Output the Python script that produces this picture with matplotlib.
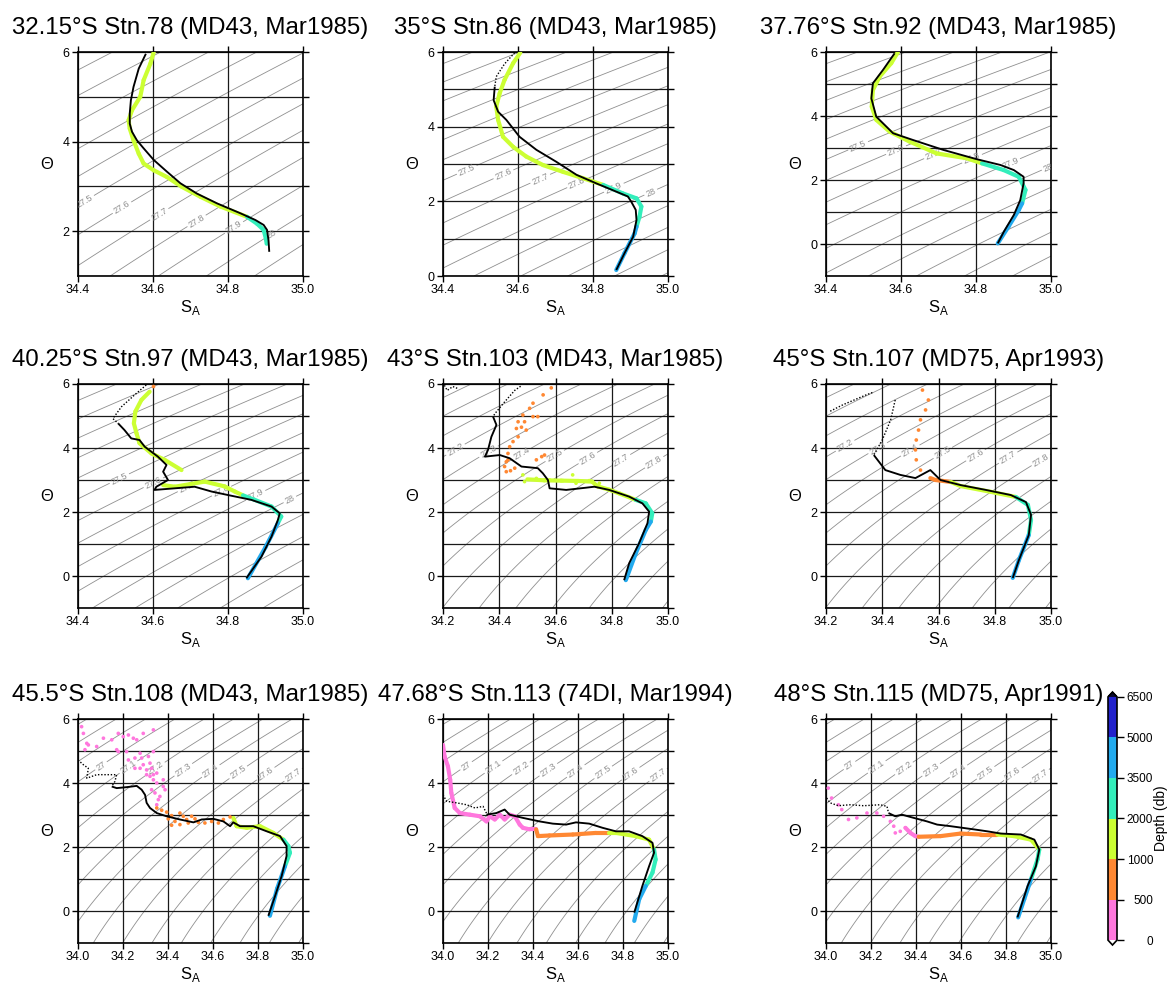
import numpy as np
import matplotlib
matplotlib.use('Agg')
import matplotlib.pyplot as plt
import matplotlib.ticker as mticker
from matplotlib.collections import LineCollection
from matplotlib.colors import ListedColormap, BoundaryNorm
from matplotlib.cm import ScalarMappable

plt.rcParams['font.family'] = ['Liberation Sans', 'DejaVu Sans']
plt.rcParams['mathtext.fontset'] = 'custom'
plt.rcParams['mathtext.rm'] = 'Liberation Sans'

# depth classes (db) and their colours
depth_bounds = [0, 500, 1000, 2000, 3500, 5000, 6500]
depth_colors = ['#ff77dd', '#ff8833', '#ccff33', '#33eebb', '#22aaee', '#2222cc']

titles = ['32.15°S Stn.78 (MD43, Mar1985)', '35°S Stn.86 (MD43, Mar1985)',
          '37.76°S Stn.92 (MD43, Mar1985)', '40.25°S Stn.97 (MD43, Mar1985)',
          '43°S Stn.103 (MD43, Mar1985)', '45°S Stn.107 (MD75, Apr1993)',
          '45.5°S Stn.108 (MD43, Mar1985)', '47.68°S Stn.113 (74DI, Mar1994)',
          '48°S Stn.115 (MD75, Apr1991)']

# ---- Stn.78 ----
stn78_ref = [(34.581, 5.96), (34.562, 5.63), (34.548, 5.22), (34.541, 4.92), (34.538, 4.63),
             (34.538, 4.40), (34.544, 4.22), (34.557, 4.03), (34.575, 3.85), (34.602, 3.59),
             (34.637, 3.33), (34.673, 3.07), (34.717, 2.84), (34.771, 2.62), (34.833, 2.40),
             (34.873, 2.25), (34.895, 2.14), (34.904, 2.03), (34.908, 1.80), (34.910, 1.54)]
stn78_ctd = [(34.602, 6.00, 1050), (34.593, 5.74, 1080), (34.575, 5.37, 1120), (34.566, 5.00, 1160),
             (34.544, 4.70, 1200), (34.535, 4.48, 1230), (34.538, 4.29, 1260), (34.548, 4.03, 1300),
             (34.562, 3.73, 1350), (34.575, 3.51, 1400), (34.602, 3.36, 1450), (34.637, 3.21, 1500),
             (34.677, 2.99, 1600), (34.726, 2.77, 1700), (34.780, 2.55, 1850), (34.851, 2.32, 2050),
             (34.877, 2.17, 2300), (34.895, 2.03, 2700), (34.902, 1.80, 3200), (34.903, 1.72, 3400)]

# ---- Stn.86 ----
stn86_sparse = [(34.591, 5.98), (34.564, 5.68), (34.542, 5.34), (34.538, 5.07)]
stn86_ref = [(34.538, 5.07), (34.535, 4.71), (34.547, 4.40), (34.569, 4.18), (34.604, 3.73),
             (34.649, 3.38), (34.702, 3.06), (34.756, 2.71), (34.809, 2.48), (34.862, 2.26),
             (34.893, 2.13), (34.902, 1.99), (34.914, 1.77), (34.916, 1.50), (34.907, 1.05),
             (34.884, 0.61), (34.862, 0.16)]
stn86_ctd = [(34.606, 5.98, 1050), (34.587, 5.70, 1080), (34.564, 5.25, 1120), (34.551, 4.89, 1160),
             (34.542, 4.54, 1200), (34.547, 4.18, 1250), (34.560, 3.73, 1300), (34.587, 3.46, 1350),
             (34.622, 3.20, 1400), (34.667, 2.97, 1500), (34.720, 2.79, 1650), (34.773, 2.62, 1800),
             (34.827, 2.44, 1980), (34.880, 2.21, 2300), (34.916, 2.08, 2600), (34.929, 1.86, 2900),
             (34.924, 1.59, 3200), (34.916, 1.32, 3450), (34.911, 1.14, 3700), (34.884, 0.61, 4300),
             (34.862, 0.16, 4900)]

# ---- Stn.92 ----
stn92_ref = [(34.583, 5.96), (34.552, 5.44), (34.525, 5.02), (34.521, 4.55), (34.534, 3.98),
             (34.579, 3.46), (34.632, 3.25), (34.713, 2.94), (34.802, 2.65), (34.865, 2.47),
             (34.901, 2.31), (34.927, 2.10), (34.927, 1.90), (34.918, 1.37), (34.901, 0.91),
             (34.874, 0.38), (34.858, 0.02)]
stn92_ctd = [(34.592, 6.00, 1050), (34.574, 5.65, 1080), (34.543, 5.23, 1120), (34.525, 4.81, 1160),
             (34.522, 4.29, 1220), (34.534, 3.88, 1300), (34.570, 3.51, 1400), (34.623, 3.20, 1500),
             (34.695, 2.83, 1700), (34.775, 2.68, 1900), (34.816, 2.52, 2050), (34.874, 2.31, 2400),
             (34.914, 2.10, 2800), (34.932, 1.69, 3200), (34.923, 1.27, 3450), (34.914, 1.06, 3700),
             (34.887, 0.55, 4300), (34.858, 0.02, 5050)]

# ---- Stn.97 ----
stn97_sparse = [(34.582, 5.97), (34.551, 5.66), (34.516, 5.29), (34.493, 4.92), (34.507, 4.77)]
stn97_ref = [(34.507, 4.77), (34.524, 4.56), (34.542, 4.30), (34.564, 4.25), (34.578, 4.04),
             (34.613, 3.73), (34.636, 3.47), (34.627, 3.26), (34.640, 3.00), (34.609, 2.79),
             (34.604, 2.69), (34.658, 2.74), (34.711, 2.79), (34.756, 2.64), (34.800, 2.53),
             (34.862, 2.38), (34.916, 2.17), (34.938, 1.96), (34.933, 1.75), (34.916, 1.23),
             (34.889, 0.60), (34.849, -0.07)]
stn97_bottle = [(34.600, 5.94, 900)]
stn97_ctd_upper = [(34.591, 5.76, 1050), (34.569, 5.50, 1080), (34.553, 5.14, 1110), (34.549, 4.77, 1140),
                   (34.556, 4.46, 1170), (34.564, 4.15, 1200), (34.596, 3.83, 1250), (34.631, 3.63, 1300),
                   (34.676, 3.31, 1350)]
stn97_ctd_lower = [(34.627, 2.84, 1400), (34.658, 2.79, 1450), (34.738, 2.95, 1550), (34.791, 2.80, 1700),
                   (34.818, 2.64, 1900), (34.840, 2.52, 2050), (34.871, 2.38, 2300), (34.916, 2.17, 2700),
                   (34.942, 1.86, 3200), (34.933, 1.65, 3600), (34.900, 0.90, 4200), (34.853, -0.07, 4900)]

# ---- Stn.103 ----
stn103_sparse_a = [(34.205, 5.96), (34.215, 5.80), (34.235, 5.92), (34.255, 5.85)]
stn103_sparse_b = [(34.476, 5.93), (34.455, 5.80), (34.420, 5.45), (34.385, 5.08), (34.378, 4.98)]
stn103_ref = [(34.378, 4.98), (34.390, 4.72), (34.372, 4.35), (34.360, 3.94), (34.349, 3.73),
              (34.402, 3.78), (34.437, 3.68), (34.479, 3.42), (34.537, 3.37), (34.555, 3.21),
              (34.573, 3.00), (34.579, 2.74), (34.638, 2.69), (34.709, 2.76), (34.738, 2.79),
              (34.791, 2.69), (34.862, 2.48), (34.909, 2.27), (34.933, 2.01), (34.927, 1.65),
              (34.897, 1.02), (34.862, 0.40), (34.844, -0.13)]
stn103_bottle = [(34.585, 5.88, 700), (34.556, 5.66, 700), (34.520, 5.40, 700), (34.508, 5.24, 700),
                 (34.484, 5.03, 700), (34.520, 4.98, 700), (34.537, 4.98, 700), (34.467, 4.82, 700),
                 (34.490, 4.82, 700), (34.461, 4.61, 700), (34.479, 4.65, 700), (34.496, 4.56, 700),
                 (34.467, 4.35, 700), (34.449, 4.20, 700), (34.437, 4.04, 700), (34.431, 3.83, 700),
                 (34.425, 3.57, 700), (34.419, 3.42, 700), (34.425, 3.26, 700), (34.440, 3.29, 700),
                 (34.455, 3.37, 700), (34.551, 3.73, 700), (34.561, 3.78, 700), (34.532, 3.63, 700),
                 (34.431, 3.63, 700), (34.484, 3.16, 1100), (34.490, 2.95, 1100), (34.532, 3.05, 1100),
                 (34.579, 3.00, 1100), (34.626, 2.98, 1100), (34.661, 3.16, 1100), (34.673, 2.90, 1100),
                 (34.720, 2.98, 1100), (34.756, 2.90, 1100)]
stn103_ctd = [(34.500, 3.02, 1100), (34.560, 2.99, 1130), (34.620, 2.98, 1160), (34.680, 2.97, 1200),
              (34.730, 2.95, 1250), (34.750, 2.80, 1300), (34.790, 2.70, 1500), (34.827, 2.58, 1700),
              (34.885, 2.38, 2100), (34.921, 2.27, 2400), (34.944, 1.96, 2900), (34.939, 1.70, 3300),
              (34.921, 1.44, 3700), (34.885, 0.70, 4300), (34.850, -0.13, 4900)]

# ---- Stn.107 ----
stn107_sparse_a = [(34.215, 5.15), (34.260, 5.35), (34.300, 5.50), (34.340, 5.65), (34.370, 5.75)]
stn107_sparse_b = [(34.446, 5.50), (34.430, 4.88), (34.400, 4.25), (34.370, 3.78)]
stn107_ref = [(34.370, 3.78), (34.411, 3.31), (34.464, 3.16), (34.518, 3.06), (34.571, 3.31),
              (34.607, 3.00), (34.679, 2.84), (34.768, 2.69), (34.857, 2.53), (34.911, 2.31),
              (34.929, 1.91), (34.921, 1.28), (34.886, 0.50), (34.864, -0.06)]
stn107_bottle = [(34.543, 5.81, 700), (34.564, 5.50, 700), (34.554, 5.19, 700), (34.536, 4.88, 700),
                 (34.529, 4.56, 700), (34.521, 4.25, 700), (34.518, 3.94, 700), (34.521, 3.63, 700),
                 (34.536, 3.31, 700)]
stn107_ctd = [(34.571, 3.06, 800), (34.589, 3.00, 900), (34.643, 2.94, 980), (34.679, 2.81, 1100),
              (34.786, 2.63, 1500), (34.875, 2.47, 1900), (34.918, 2.22, 2200), (34.929, 1.75, 3000),
              (34.921, 1.28, 3600), (34.886, 0.50, 4300), (34.864, -0.06, 4800)]

# ---- Stn.108 ----
stn108_sparse = [(34.000, 4.72), (34.024, 4.57), (34.046, 4.46), (34.039, 4.15), (34.083, 4.26),
                 (34.127, 4.26), (34.172, 4.26), (34.164, 4.05), (34.150, 3.89)]
stn108_ref = [(34.150, 3.89), (34.172, 3.84), (34.216, 3.87), (34.261, 3.91), (34.283, 3.79),
              (34.298, 3.63), (34.305, 3.38), (34.320, 3.22), (34.350, 3.06), (34.394, 2.96),
              (34.453, 2.86), (34.513, 2.77), (34.550, 2.86), (34.601, 2.88), (34.646, 2.80),
              (34.676, 2.65), (34.690, 2.77), (34.720, 2.65), (34.779, 2.65), (34.839, 2.49),
              (34.898, 2.34), (34.927, 2.03), (34.927, 1.72), (34.905, 1.09), (34.876, 0.47),
              (34.846, -0.15)]
stn108_bottle = [(34.016, 5.76, 250), (34.024, 5.55, 250), (34.039, 5.24, 250), (34.046, 5.19, 250),
                 (34.031, 5.04, 250), (34.083, 5.14, 250), (34.113, 5.40, 250), (34.150, 5.35, 250),
                 (34.179, 5.55, 250), (34.201, 5.45, 250), (34.224, 5.50, 250), (34.246, 5.40, 250),
                 (34.261, 5.35, 250), (34.290, 5.55, 250), (34.335, 5.66, 250), (34.172, 5.04, 250),
                 (34.179, 4.98, 250), (34.216, 4.98, 250), (34.224, 4.72, 250), (34.253, 4.78, 250),
                 (34.276, 4.93, 250), (34.283, 4.78, 250), (34.313, 4.83, 250), (34.335, 4.98, 250),
                 (34.290, 4.57, 250), (34.320, 4.62, 250), (34.253, 4.46, 250), (34.276, 4.46, 250),
                 (34.305, 4.41, 250), (34.327, 4.46, 250), (34.350, 4.31, 250), (34.320, 4.21, 250),
                 (34.335, 4.10, 250), (34.350, 4.00, 250), (34.379, 3.89, 250), (34.327, 3.79, 250),
                 (34.342, 3.69, 250), (34.364, 3.58, 250), (34.357, 3.48, 250), (34.350, 3.32, 250),
                 (34.379, 4.10, 250), (34.387, 3.79, 250), (34.305, 4.26, 250), (34.335, 4.26, 250),
                 (34.350, 3.22, 750), (34.372, 3.15, 750), (34.394, 3.09, 750), (34.416, 2.98, 750),
                 (34.401, 2.88, 750), (34.431, 2.80, 750), (34.453, 3.06, 750), (34.468, 2.96, 750),
                 (34.483, 2.86, 750), (34.505, 2.96, 750), (34.520, 2.88, 750), (34.416, 2.68, 750),
                 (34.453, 2.70, 750), (34.490, 2.75, 750), (34.535, 2.77, 750), (34.564, 2.75, 750),
                 (34.594, 2.80, 750), (34.624, 2.75, 750), (34.646, 2.86, 750), (34.676, 2.94, 750)]
stn108_ctd = [(34.690, 2.91, 1050), (34.705, 2.65, 1150), (34.750, 2.60, 1300), (34.809, 2.65, 1500),
              (34.868, 2.44, 1750), (34.913, 2.23, 1950), (34.935, 2.03, 2100), (34.942, 1.82, 2500),
              (34.920, 1.40, 3600), (34.885, 0.70, 4200), (34.853, -0.15, 4800)]

# ---- Stn.113 ----
stn113_sparse = [(34.000, 3.63), (34.016, 3.43), (34.060, 3.38), (34.105, 3.32), (34.142, 3.22),
                 (34.178, 3.27), (34.193, 3.06)]
stn113_ref = [(34.193, 3.01), (34.237, 3.06), (34.274, 3.17), (34.296, 3.01), (34.355, 2.91),
              (34.429, 2.80), (34.488, 2.73), (34.547, 2.70), (34.591, 2.77), (34.650, 2.73),
              (34.709, 2.60), (34.768, 2.49), (34.827, 2.49), (34.886, 2.34), (34.931, 2.13),
              (34.938, 1.82), (34.916, 1.40), (34.886, 0.78), (34.850, -0.05)]
stn113_ctd = [(34.000, 5.19, 20), (34.007, 4.83, 40), (34.022, 4.52, 60), (34.032, 4.10, 80),
              (34.037, 3.69, 100), (34.052, 3.22, 130), (34.075, 3.06, 160), (34.119, 3.01, 200),
              (34.164, 2.96, 230), (34.193, 2.80, 260), (34.208, 2.96, 280), (34.230, 2.86, 300),
              (34.252, 3.01, 320), (34.274, 2.86, 340), (34.296, 3.01, 360), (34.319, 2.96, 380),
              (34.341, 2.70, 410), (34.355, 2.60, 430), (34.385, 2.55, 460), (34.414, 2.55, 490),
              (34.422, 2.34, 520), (34.473, 2.36, 600), (34.577, 2.39, 750), (34.680, 2.44, 900),
              (34.739, 2.44, 980), (34.768, 2.44, 1050), (34.857, 2.34, 1500), (34.916, 2.23, 1800),
              (34.938, 1.92, 2000), (34.945, 1.61, 2400), (34.931, 1.20, 3000), (34.901, 0.78, 3400),
              (34.872, 0.37, 3800), (34.850, -0.31, 4600)]

# ---- Stn.115 ----
stn115_sparse = [(34.003, 3.53), (34.018, 3.38), (34.055, 3.29), (34.107, 3.32), (34.167, 3.29),
                 (34.241, 3.32), (34.271, 3.27), (34.278, 3.06)]
stn115_ref = [(34.278, 3.06), (34.308, 2.96), (34.338, 3.01), (34.390, 2.91), (34.449, 2.80),
              (34.494, 2.70), (34.554, 2.65), (34.606, 2.60), (34.658, 2.55), (34.717, 2.49),
              (34.777, 2.42), (34.866, 2.39), (34.926, 2.23), (34.948, 1.92), (34.933, 1.40),
              (34.896, 0.78), (34.851, -0.20)]
stn115_bottle = [(34.010, 3.84, 300), (34.025, 3.53, 300), (34.055, 3.32, 300), (34.070, 3.17, 300),
                 (34.100, 2.86, 300), (34.137, 2.91, 300), (34.182, 3.06, 300), (34.226, 3.06, 300),
                 (34.256, 2.96, 300), (34.286, 2.80, 300), (34.301, 2.65, 300), (34.308, 2.44, 300),
                 (34.330, 2.49, 300), (34.353, 2.60, 300)]
stn115_ctd = [(34.353, 2.60, 380), (34.375, 2.44, 420), (34.397, 2.34, 460), (34.412, 2.32, 520),
              (34.509, 2.34, 650), (34.598, 2.42, 780), (34.688, 2.39, 900), (34.762, 2.39, 1000),
              (34.836, 2.34, 1300), (34.911, 2.23, 1700), (34.948, 1.92, 2000), (34.940, 1.61, 2300),
              (34.911, 0.99, 3200), (34.881, 0.37, 3800), (34.854, -0.20, 4400)]

# axis ranges
sa_limits = [(34.4, 35.0)] * 4 + [(34.2, 35.0)] * 2 + [(34.0, 35.0)] * 3
theta_limits = [(1, 6), (0, 6)] + [(-1, 6)] * 7

# neutral-density background: (gamma at SA=34.8/Theta=2, dgamma/dSA, dgamma/dTheta, curvature)
eos_north = [(27.90, 0.78, 0.149, 0.008), (27.92, 0.80, 0.175, 0.008),
             (27.91, 0.78, 0.150, 0.008), (27.913, 0.88, 0.147, 0.008)]
eos_south = (27.887, 0.767, 0.117, 0.017)
eos_params = eos_north + [eos_south] * 5

# labelled isopycnals and the line the labels sit on
label_ranges = [(27.5, 28.0)] * 4 + [(27.2, 27.8)] * 2 + [(27.0, 27.7)] * 3
label_lines = [((34.42, 2.67), (34.98, 1.84)), ((34.467, 2.84), (34.942, 2.26)),
               ((34.507, 3.04), (34.976, 2.42)), ((34.507, 3.05), (34.973, 2.38)),
               ((34.266, 3.94), (34.927, 3.57)), ((34.286, 4.06), (34.957, 3.63)),
               ((34.098, 4.54), (34.935, 4.26)), ((34.105, 4.54), (34.931, 4.26)),
               ((34.104, 4.55), (34.952, 4.23))]

ref_paths = [[stn78_ref], [stn86_ref], [stn92_ref], [stn97_ref], [stn103_ref],
             [stn107_ref], [stn108_ref], [stn113_ref], [stn115_ref]]
sparse_paths = [[], [stn86_sparse], [], [stn97_sparse], [stn103_sparse_a, stn103_sparse_b],
                [stn107_sparse_a, stn107_sparse_b], [stn108_sparse], [stn113_sparse], [stn115_sparse]]
ctd_paths = [[stn78_ctd], [stn86_ctd], [stn92_ctd], [stn97_ctd_upper, stn97_ctd_lower], [stn103_ctd],
             [stn107_ctd], [stn108_ctd], [stn113_ctd], [stn115_ctd]]
bottle_sets = [[], [], [], stn97_bottle, stn103_bottle, stn107_bottle, stn108_bottle, [], stn115_bottle]


def gamma(sa, th, p):
    g0, b, a, c = p
    return g0 + b * (sa - 34.8) - a * (th - 2) - 0.5 * c * (th - 2) ** 2


cmap = ListedColormap(depth_colors)
cmap.set_over('#0a0a30')
cmap.set_under('white')
norm = BoundaryNorm(depth_bounds, cmap.N)

W, H = 1173, 988
col_px = [78, 443, 826]
row_px = [52, 384, 719]
iso_color = '#8f8f8f'
fig = plt.figure(figsize=(W / 100, H / 100), dpi=100)

for i in range(9):
    r, c = divmod(i, 3)
    ax = fig.add_axes([col_px[c] / W, 1 - (row_px[r] + 224) / H, 225 / W, 224 / H])
    xlo, xhi = sa_limits[i]
    ylo, yhi = theta_limits[i]
    ax.set_xlim(xlo, xhi)
    ax.set_ylim(ylo, yhi)

    # isopycnals every 0.1, the ones along the label line annotated
    sg, tg = np.meshgrid(np.linspace(xlo, xhi, 200), np.linspace(ylo, yhi, 200))
    gg = gamma(sg, tg, eos_params[i])
    levels = np.round(np.arange(26.0, 28.85, 0.1), 1)
    lo, hi = label_ranges[i]
    lab = [v for v in levels if lo - 1e-6 <= v <= hi + 1e-6]
    plain = [v for v in levels if v not in lab]
    ax.contour(sg, tg, gg, levels=plain, colors=iso_color, linewidths=0.6, zorder=1)
    cs = ax.contour(sg, tg, gg, levels=lab, colors=iso_color, linewidths=0.6, zorder=1)
    (s0, t0), (s1, t1) = label_lines[i]
    ls = np.linspace(s0 - 0.15, s1 + 0.15, 500)
    lt = t0 + (t1 - t0) * (ls - s0) / (s1 - s0)
    lg = gamma(ls, lt, eos_params[i])
    pos = []
    for v in lab:
        sv = np.interp(v, lg, ls)
        pos.append((sv, np.interp(sv, ls, lt)))
    ax.clabel(cs, manual=pos, inline=True, inline_spacing=2,
              fontsize=6.5, colors=iso_color, fmt=lambda v: f'{v:g}')

    # CTD profile coloured by depth
    for path in ctd_paths[i]:
        arr = np.array(path)
        pts = arr[:, :2]
        segs = np.stack([pts[:-1], pts[1:]], axis=1)
        lc = LineCollection(segs, cmap=cmap, norm=norm, linewidths=3.0,
                            capstyle='round', joinstyle='round', zorder=3)
        lc.set_array(0.5 * (arr[:-1, 2] + arr[1:, 2]))
        ax.add_collection(lc)
    if len(bottle_sets[i]):
        arr = np.array(bottle_sets[i])
        ax.scatter(arr[:, 0], arr[:, 1], c=arr[:, 2], cmap=cmap, norm=norm,
                   s=7, linewidths=0, zorder=3)

    # reference profile
    for path in sparse_paths[i]:
        arr = np.array(path)
        ax.plot(arr[:, 0], arr[:, 1], color='black', lw=1.0, ls=(0, (1, 1.3)), zorder=4)
    for path in ref_paths[i]:
        arr = np.array(path)
        ax.plot(arr[:, 0], arr[:, 1], color='black', lw=1.35, zorder=4,
                solid_joinstyle='round', solid_capstyle='butt')

    ax.xaxis.set_major_locator(mticker.MultipleLocator(0.2))
    ax.xaxis.set_major_formatter(mticker.FormatStrFormatter('%.1f'))
    ax.yaxis.set_major_locator(mticker.MultipleLocator(2))
    ax.yaxis.set_minor_locator(mticker.MultipleLocator(1))
    ax.tick_params(which='major', direction='out', length=4, width=1, top=True, right=True,
                   labelsize=9, pad=2)
    ax.tick_params(which='minor', direction='out', length=4, width=1, left=False, right=True)
    ax.set_axisbelow('line')
    ax.grid(which='both', color='#1a1a1a', lw=0.9)
    for sp in ax.spines.values():
        sp.set_linewidth(1.2)

    ax.set_title(titles[i], fontsize=17.3, pad=13)
    ax.set_xlabel(r'$\mathrm{S}_\mathrm{A}$', fontsize=12, labelpad=1)
    ax.set_ylabel('Θ', fontsize=12, rotation=0, va='center', ha='center')
    ax.yaxis.set_label_coords(-0.138, 0.5)

# depth colour bar
cax = fig.add_axes([1108 / W, 1 - 945 / H, 9 / W, (945 - 692) / H])
sm = ScalarMappable(norm=norm, cmap=cmap)
cb = fig.colorbar(sm, cax=cax, extend='both', extendfrac=0.02, spacing='uniform',
                  ticks=depth_bounds)
cb.outline.set_linewidth(1.2)
cb.ax.tick_params(labelsize=8.5, length=5, width=1, pad=21)
for t in cb.ax.get_yticklabels():
    t.set_ha('right')
cb.set_label('Depth (db)', fontsize=10, labelpad=1)

fig.savefig('out.png', dpi=100)
